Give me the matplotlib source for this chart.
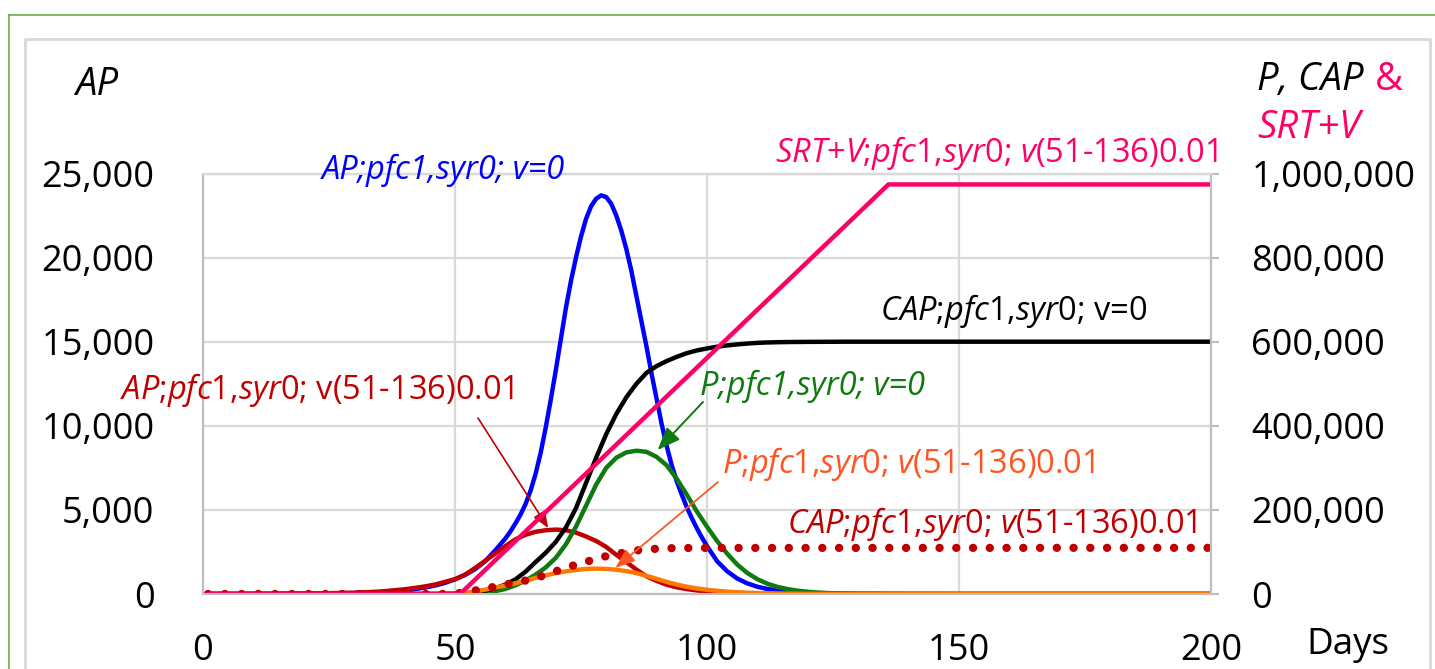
import matplotlib
matplotlib.use("Agg")
import matplotlib.pyplot as plt
from matplotlib.lines import Line2D
from matplotlib.ticker import FuncFormatter

plt.rcParams['font.family'] = ['Open Sans', 'DejaVu Sans']
plt.rcParams['mathtext.fontset'] = 'custom'
plt.rcParams['mathtext.rm'] = 'Open Sans'
plt.rcParams['mathtext.it'] = 'Open Sans:italic'

W, H = 1435, 669

# days (shared grid for the simulated series)
days = [1, 10, 20, 30, 35,
        40, 42, 44, 46, 48, 50, 52, 54, 56, 58, 60, 62, 64, 66, 68, 70,
        72, 74, 76, 78, 80, 82, 84, 86, 88, 90, 92, 94, 96, 98, 100,
        102, 104, 106, 108, 110, 112, 114, 116, 118, 120, 122, 124, 126, 128, 130,
        140, 150, 160, 170, 180, 190, 200]

# AP, v=0 (left axis) - own, finer day grid around the sharp peak
ap_v0_days = [1, 10, 20, 30, 35, 40, 42, 44, 46, 48, 50, 52, 54, 56, 58,
              60, 61, 62, 63, 64, 65, 66, 67, 68, 69, 70, 71, 72, 73, 74, 75, 76, 77, 78, 79,
              80, 81, 82, 83, 84, 85, 86, 87, 88, 89, 90, 91, 92, 93, 94, 95, 96, 97, 98, 99, 100,
              102, 104, 106, 108, 110, 112, 114, 116, 118, 120, 124, 130, 140, 150, 200]
ap_v0 = [0, 5, 20, 60, 110, 220, 290, 380, 500, 660, 870, 1130, 1480, 1950, 2600,
         3300, 3720, 4200, 4720, 5350, 6150, 7150, 8400, 9900, 11550, 13300, 15150, 17000, 18600, 20000,
         21250, 22300, 23050, 23500, 23700,
         23600, 23200, 22500, 21600, 20500, 19200, 17700, 16200, 14700, 13100, 11600, 10100, 8800, 7650,
         6700, 5900, 5150, 4500, 3900, 3350, 2850,
         1950, 1350, 920, 630, 430, 300, 200, 140, 95, 65, 30, 10, 2, 0, 0]

# AP, v(51-136)0.01 (left axis)
ap_vac = [0, 5, 25, 75, 140,
          280, 360, 450, 560, 720, 880, 1150, 1550, 1980, 2400, 2850, 3250, 3520, 3700, 3790, 3830,
          3790, 3650, 3420, 3150, 2800, 2330, 1900, 1450, 1050, 780, 550, 400, 290, 210, 155,
          115, 85, 62, 45, 33, 24, 17, 12, 8, 6, 4, 3, 2, 1, 0,
          0, 0, 0, 0, 0, 0, 0]

# P, v=0 (right axis)
p_v0 = [0, 0, 0, 0, 0,
        0, 0, 0, 200, 400, 800, 1400, 2200, 3400, 6800, 12000, 20800, 32000, 46000, 63200, 86000,
        118000, 160000, 210000, 260000, 300000, 324000, 336800, 340800, 338000, 326000, 306000, 274000, 236000, 196000, 160000,
        126000, 96000, 70000, 50000, 35200, 24400, 16800, 11600, 7800, 5200, 3400, 2200, 1400, 880, 560,
        80, 0, 0, 0, 0, 0, 0]

# CAP, v=0 (right axis)
cap_v0 = [0, 0, 0, 0, 0,
          0, 0, 0, 0, 200, 600, 1600, 4000, 8000, 13600, 22400, 34800, 53200, 76000, 98000, 124000,
          158000, 204000, 264000, 324000, 380000, 428000, 468000, 500000, 526000, 542000, 554000, 564000, 572800, 579200, 584000,
          588000, 591200, 593600, 595600, 597200, 598200, 598800, 599200, 599400, 599600, 599700, 599800, 599900, 600000, 600000,
          600000, 600000, 600000, 600000, 600000, 600000, 600000]

# P, v(51-136)0.01 (right axis)
p_vac = [0, 0, 0, 0, 0,
         0, 0, 0, 0, 0, 400, 2400, 6000, 10400, 15200, 20000, 25600, 32000, 38400, 44400, 49600,
         54000, 57200, 59600, 60400, 59600, 57600, 54400, 49600, 43200, 36000, 28800, 22400, 17200, 13200, 10000,
         7600, 5600, 4000, 3000, 2200, 1600, 1200, 880, 600, 400, 300, 200, 150, 100, 80,
         0, 0, 0, 0, 0, 0, 0]

# CAP, v(51-136)0.01 (right axis)
cap_vac = [0, 0, 0, 0, 0,
           0, 0, 0, 0, 0, 800, 4000, 8400, 12800, 17600, 22400, 27200, 32000, 38400, 45200, 54000,
           62800, 69600, 76400, 83600, 90000, 94800, 99600, 103600, 106000, 107600, 108600, 109200, 109400, 109500, 109600,
           109600, 109600, 109600, 109600, 109600, 109600, 109600, 109600, 109600, 109600, 109600, 109600, 109600, 109600, 109600,
           109700, 109700, 109700, 109800, 109800, 109800, 109800]

# SRT+V, vaccination 51-136 (right axis)
srt_days = [1, 51, 136, 200]
srt_vals = [0, 0, 974000, 974000]

left_ticks = [0, 5000, 10000, 15000, 20000, 25000]
right_ticks = [0, 200000, 400000, 600000, 800000, 1000000]
x_ticks = [0, 50, 100, 150, 200]

BLUE = '#0000FF'
DRED = '#C00000'
GREEN = '#0F7A0F'
ORANGE = '#FF7A00'
ORTXT = '#FF5522'
PINK = '#FF0066'
GRID = '#D9D9D9'
AXC = '#BFBFBF'


def pf(x, y):
    # image pixel -> figure fraction
    return (x / W, 1 - y / H)


fig = plt.figure(figsize=(W / 100, H / 100), dpi=100)

# outer frames
fig.add_artist(Line2D([9 / W, 1], [1 - 15 / H, 1 - 15 / H], color='#70AD47', lw=1.2, transform=fig.transFigure))
fig.add_artist(Line2D([9 / W, 9 / W], [0, 1 - 15 / H], color='#70AD47', lw=1.2, transform=fig.transFigure))
fig.add_artist(Line2D([25 / W, 25 / W, 1430 / W, 1430 / W], [0, 1 - 39 / H, 1 - 39 / H, 0],
                      color=GRID, lw=2, transform=fig.transFigure))

ax = fig.add_axes([203 / W, 1 - 594 / H, (1211 - 203) / W, (594 - 173.5) / H])
ax2 = ax.twinx()

ax.set_xlim(0, 200)
ax.set_ylim(0, 25000)
ax2.set_ylim(0, 1000000)
ax.set_xticks(x_ticks)
ax.set_yticks(left_ticks)
ax2.set_yticks(right_ticks)
ax.yaxis.set_major_formatter(FuncFormatter(lambda v, p: f'{v:,.0f}'))
ax2.yaxis.set_major_formatter(FuncFormatter(lambda v, p: f'{v:,.0f}'))

ax.set_axisbelow(True)
ax.grid(True, color=GRID, lw=1.6)
for a in (ax, ax2):
    for s in ('left', 'bottom', 'right'):
        a.spines[s].set_color(AXC)
        a.spines[s].set_linewidth(1.5)
    a.spines['top'].set_color(GRID)
    a.spines['top'].set_linewidth(1.6)

ax.tick_params(axis='y', length=0, pad=35, labelsize=26)
ax.tick_params(axis='x', length=0, pad=28, labelsize=26)
ax2.tick_params(axis='y', length=6, width=1.5, color=AXC, pad=23, labelsize=26)

lw = 3.2
ax.plot(ap_v0_days, ap_v0, color=BLUE, lw=lw, solid_capstyle='round', solid_joinstyle='round')
ax.plot(days, ap_vac, color=DRED, lw=lw, solid_capstyle='round', solid_joinstyle='round')
ax2.plot(days, p_v0, color=GREEN, lw=lw, solid_capstyle='round', solid_joinstyle='round')
ax2.plot(days, cap_v0, color='black', lw=lw, solid_capstyle='round', solid_joinstyle='round')
ax2.plot(days, p_vac, color=ORANGE, lw=lw, solid_capstyle='round', solid_joinstyle='round')
ax2.plot(days, cap_vac, color=DRED, lw=6, linestyle=(0, (0.01, 2.0)), dash_capstyle='round')
ax2.plot(srt_days, srt_vals, color=PINK, lw=lw, solid_capstyle='round')

# axis titles
fs_t = 27.5
fig.text(*pf(75, 95), 'AP', fontsize=fs_t, style='italic', va='baseline')
fig.text(*pf(1257, 90), 'P, CAP', fontsize=fs_t, style='italic', va='baseline')
fig.text(*pf(1375, 90), '&', fontsize=fs_t, color=PINK, va='baseline')
fig.text(*pf(1257, 138), 'SRT+V', fontsize=fs_t, style='italic', color=PINK, va='baseline')
fig.text(*pf(1306, 654), 'Days', fontsize=26.5, va='baseline')

# series labels
fs = 23.5
fig.text(*pf(322, 179), 'AP;pfc1,syr0; v=0', fontsize=fs, style='italic', color=BLUE, va='baseline')
fig.text(*pf(775, 162), r'$\mathit{SRT}$+$\mathit{V}$;$\mathit{pfc}$1,$\mathit{syr}$0; $\mathit{v}$(51-136)0.01',
         fontsize=fs, color=PINK, va='baseline')
fig.text(*pf(880, 320), r'$\mathit{CAP}$;$\mathit{pfc}$1,$\mathit{syr}$0; v=0', fontsize=fs, color='black', va='baseline')
fig.text(*pf(120, 399), r'$\mathit{AP}$;$\mathit{pfc}$1,$\mathit{syr}$0; v(51-136)0.01', fontsize=fs, color=DRED, va='baseline')
fig.text(*pf(700, 395), 'P;pfc1,syr0; v=0', fontsize=fs, style='italic', color=GREEN, va='baseline')
fig.text(*pf(722, 473), r'$\mathit{P}$;$\mathit{pfc}$1,$\mathit{syr}$0; $\mathit{v}$(51-136)0.01',
         fontsize=fs, color=ORTXT, va='baseline')
fig.text(*pf(787, 533), r'$\mathit{CAP}$;$\mathit{pfc}$1,$\mathit{syr}$0; $\mathit{v}$(51-136)0.01',
         fontsize=fs, color=DRED, va='baseline')

# arrows
ax.annotate('', xy=(68.5, 3924), xycoords='data', xytext=pf(478, 418), textcoords='figure fraction',
            arrowprops=dict(arrowstyle='-|>,head_length=1.0,head_width=0.4', color=DRED, lw=1.2,
                            shrinkA=0, shrinkB=0, mutation_scale=10))
ax2.annotate('', xy=(90.2, 342400), xycoords='data', xytext=pf(703, 402), textcoords='figure fraction',
             arrowprops=dict(arrowstyle='-|>,head_length=1.4,head_width=0.55', color=GREEN, lw=1.4,
                             shrinkA=0, shrinkB=0, mutation_scale=10))
ax2.annotate('', xy=(81.8, 61800), xycoords='data', xytext=pf(718, 482), textcoords='figure fraction',
             arrowprops=dict(arrowstyle='-|>,head_length=1.2,head_width=0.45', color=ORTXT, lw=1.3,
                             shrinkA=0, shrinkB=0, mutation_scale=10))

fig.savefig('out.png', dpi=100)
